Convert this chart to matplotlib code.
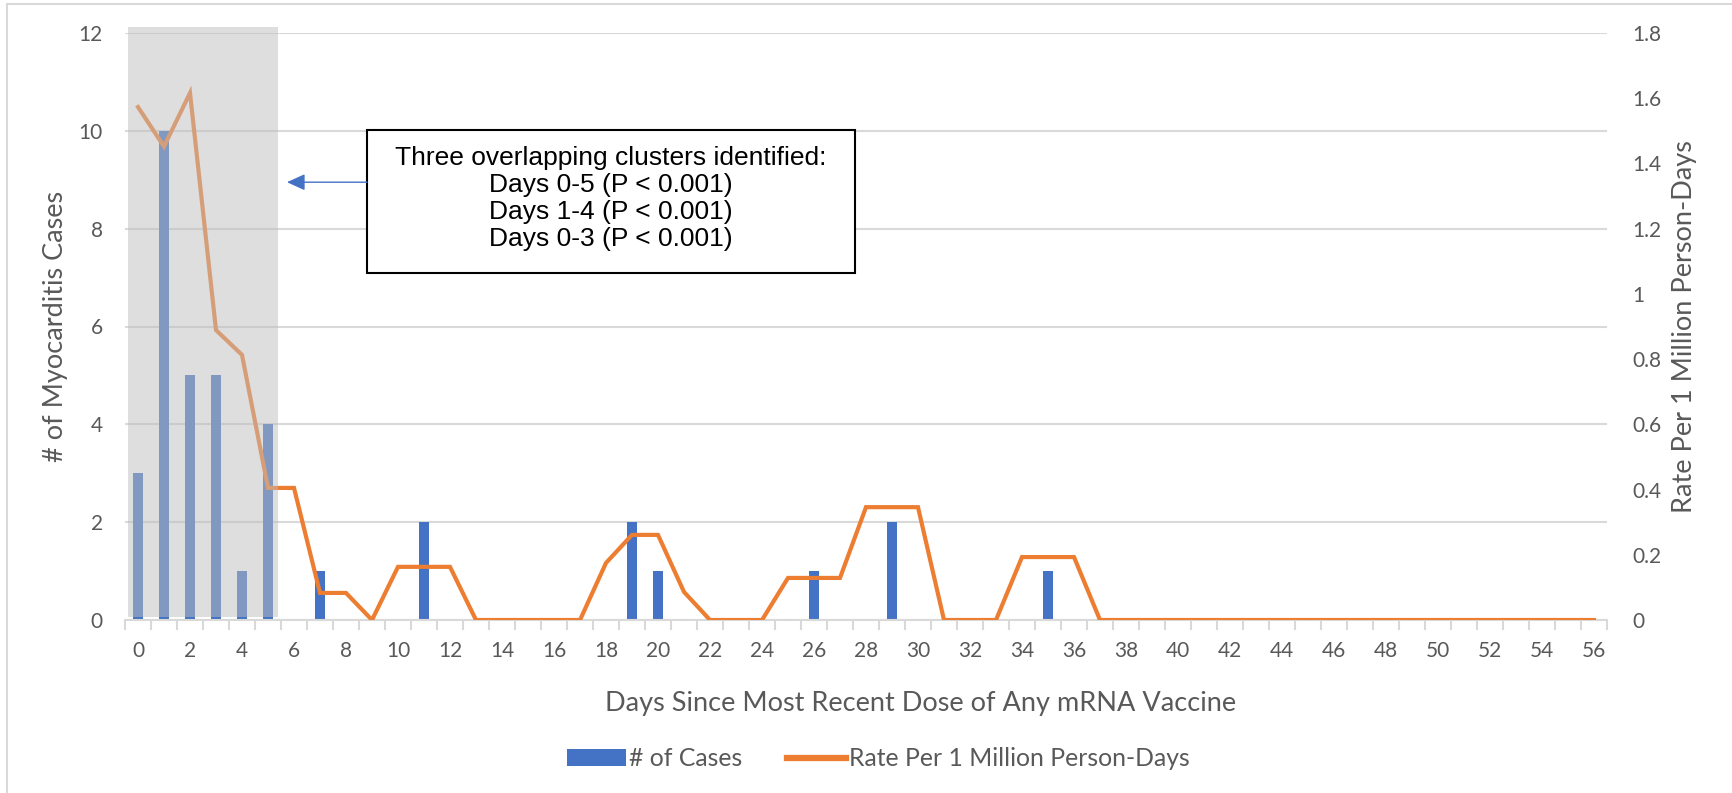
import numpy as np
import matplotlib
matplotlib.use('Agg')
from matplotlib import pyplot as plt
from matplotlib.patches import Rectangle
from matplotlib.lines import Line2D

plt.rcParams['font.family'] = ['Lato', 'DejaVu Sans']

# data
days = np.arange(0, 57)
cases = np.zeros(57)
case_days = [0, 1, 2, 3, 4, 5, 7, 11, 19, 20, 26, 29, 35]
case_counts = [3, 10, 5, 5, 1, 4, 1, 2, 2, 1, 1, 2, 1]
cases[case_days] = case_counts

rate = np.zeros(57)
rate_days = [0, 1, 2, 3, 4, 5, 6, 7, 8, 10, 11, 12,
             18, 19, 20, 21, 25, 26, 27, 28, 29, 30, 34, 35, 36]
rate_vals = [1.573, 1.452, 1.616, 0.889, 0.813, 0.405, 0.405, 0.083, 0.083, 0.163, 0.163, 0.163,
             0.175, 0.261, 0.261, 0.086, 0.129, 0.129, 0.129, 0.346, 0.346, 0.346, 0.193, 0.193, 0.193]
rate[rate_days] = rate_vals

cluster_text = ('Three overlapping clusters identified:\n'
                'Days 0-5 (P < 0.001)\n'
                'Days 1-4 (P < 0.001)\n'
                'Days 0-3 (P < 0.001)')

blue = '#4472c4'
orange = '#ed7d31'
txt = '#595959'
grid = '#d9d9d9'

fig = plt.figure(figsize=(17.32, 7.93), dpi=100)
ax = fig.add_axes([125 / 1732, 1 - 620 / 793, 1482 / 1732, 587 / 793])
ax2 = ax.twinx()

ax.bar(days, cases, width=0.41, color=blue, zorder=2)
ax2.plot(days, rate, color=orange, lw=3, solid_joinstyle='miter', zorder=3)

ax.set_xlim(-0.5, 56.5)
ax.set_ylim(0, 12)
ax2.set_ylim(0, 1.8)
ax.set_yticks(np.arange(0, 13, 2))
ax2.set_yticks(np.arange(0, 1.81, 0.2))
ax2.set_yticklabels(['0', '0.2', '0.4', '0.6', '0.8', '1', '1.2', '1.4', '1.6', '1.8'])
ax.set_xticks(np.arange(0, 57, 2))
ax.set_xticks(np.arange(-0.5, 57, 1), minor=True)

ax.grid(axis='y', color=grid, lw=1.5, zorder=0)
ax.set_axisbelow(True)
for a in (ax, ax2):
    for s in ('left', 'right', 'top'):
        a.spines[s].set_visible(False)
ax.spines['bottom'].set_color(grid)
ax.spines['bottom'].set_linewidth(1.5)
ax2.spines['bottom'].set_visible(False)

ax.tick_params(axis='x', which='major', length=0, pad=15, labelsize=15, labelcolor=txt)
ax.tick_params(axis='x', which='minor', length=7, width=1.5, color=grid)
ax.tick_params(axis='y', length=0, pad=16, labelsize=15, labelcolor=txt)
ax2.tick_params(axis='y', length=0, pad=18, labelsize=15, labelcolor=txt)

ax.set_xlabel('Days Since Most Recent Dose of Any mRNA Vaccine', fontsize=19.5, color=txt)
ax.xaxis.set_label_coords(0.537, -0.143)
ax.xaxis.label.set_va('center')
ax.set_ylabel('# of Myocarditis Cases', fontsize=19.5, color=txt)
ax.yaxis.set_label_coords(-0.047, 0.5)
ax.yaxis.label.set_va('center')
ax2.set_ylabel('Rate Per 1 Million Person-Days', fontsize=19.5, color=txt)
ax2.yaxis.set_label_coords(1.0526, 0.5)
ax2.yaxis.label.set_va('center')

# translucent grey shading over the cluster window (days 0-5)
shade = Rectangle((-0.385, 0.06), 5.765, 12.07, transform=ax.transData,
                  facecolor='#bfbfbf', alpha=0.5, edgecolor='none', zorder=5, clip_on=False)
ax2.add_patch(shade)

# annotation box and arrow
box = Rectangle((8.81, 7.09), 18.77, 2.93, transform=ax.transData,
                facecolor='white', edgecolor='black', lw=1.5, zorder=6)
ax2.add_patch(box)
ax2.text(18.19, 8.62, cluster_text, transform=ax.transData, ha='center', va='center',
         fontsize=19, family=['Liberation Sans', 'DejaVu Sans'], color='black',
         linespacing=1.16, zorder=7)
ax2.annotate('', xy=(5.73, 8.95), xytext=(8.81, 8.95),
             xycoords=ax.transData, textcoords=ax.transData,
             arrowprops=dict(arrowstyle='-|>,head_length=0.55,head_width=0.25',
                             color=blue, lw=1, mutation_scale=20, shrinkA=0, shrinkB=0),
             zorder=7)

handles = [Rectangle((0, 0), 1, 1, facecolor=blue),
           Line2D([0], [0], color=orange, lw=4.5)]
fig.legend(handles, ['# of Cases', 'Rate Per 1 Million Person-Days'], loc='center',
           bbox_to_anchor=(0.507, 0.043), ncol=2, frameon=False, fontsize=17.8,
           labelcolor=txt, handlelength=2.4, handleheight=0.7, handletextpad=0.12,
           columnspacing=1.8)

# chart-area border (only the top and left edges are inside the image)
fig.add_artist(Line2D([7 / 1732, 7 / 1732], [0, 1 - 4 / 793], color=grid, lw=1.5))
fig.add_artist(Line2D([7 / 1732, 1], [1 - 4 / 793, 1 - 4 / 793], color=grid, lw=1.5))

plt.savefig('out.png', dpi=100)
